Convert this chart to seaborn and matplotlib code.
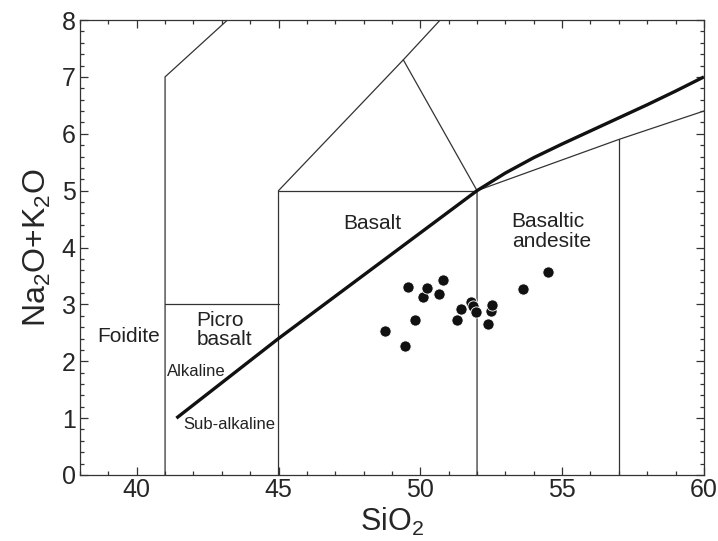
import numpy as np
import pandas as pd
import matplotlib
matplotlib.use('Agg')
import matplotlib.pyplot as plt
import seaborn as sns
from matplotlib.ticker import MultipleLocator

# 样品数据 (SiO2, Na2O+K2O)
sio2 = [48.75, 49.47, 49.55, 49.83, 50.08, 50.22, 50.65, 50.80, 51.30,
        51.43, 51.79, 51.87, 51.95, 52.39, 52.49, 52.53, 53.61, 54.49]
alk = [2.53, 2.27, 3.30, 2.72, 3.13, 3.29, 3.18, 3.42, 2.73,
       2.91, 3.04, 2.97, 2.86, 2.65, 2.88, 2.99, 3.27, 3.57]

# TAS 分区边界
foidite_x = [41, 41, 43.2]
foidite_y = [0, 7, 8]
picro_x = [41, 45]
picro_y = [3, 3]
line45_x = [45, 45, 49.4, 50.7]
line45_y = [0, 5, 7.3, 8]
basalt_top_x = [45, 52]
basalt_top_y = [5, 5]
tri_x = [49.4, 52]
tri_y = [7.3, 5]
line52_x = [52, 52, 57, 60]
line52_y = [0, 5, 5.9, 6.4]
line57_x = [57, 57]
line57_y = [0, 5.9]

# 碱性/亚碱性分界线
ib_x = [41.4, 45, 48.5, 52, 53, 54, 55, 56, 57, 58, 59, 60]
ib_y = [1.0, 2.4, 3.7, 5.0, 5.31, 5.58, 5.82, 6.05, 6.28, 6.51, 6.75, 7.0]

sns.set_style('ticks')
plt.rcParams['font.family'] = ['Liberation Sans', 'DejaVu Sans']
plt.rcParams['mathtext.default'] = 'regular'

fig = plt.figure(figsize=(7.18, 5.41), dpi=100)
ax = fig.add_axes([0.1114, 0.122, 0.869, 0.841])

edge = '#333333'
for xs, ys in [(foidite_x, foidite_y), (picro_x, picro_y), (line45_x, line45_y),
               (basalt_top_x, basalt_top_y), (tri_x, tri_y), (line52_x, line52_y),
               (line57_x, line57_y)]:
    ax.plot(xs, ys, color=edge, lw=0.9, solid_joinstyle='miter')

ax.plot(ib_x, ib_y, color='#111111', lw=2.4, solid_capstyle='butt')

df = pd.DataFrame({'SiO2': sio2, 'alk': alk})
sns.scatterplot(data=df, x='SiO2', y='alk', ax=ax, color='#111111',
                s=65, edgecolor='white', linewidth=0.6, zorder=5)

# 分区标注
ax.text(39.7, 2.43, 'Foidite', fontsize=15, ha='center', va='center', color='#222222')
ax.text(42.1, 2.55, 'Picro\nbasalt', fontsize=15, ha='left', va='center',
        linespacing=1.05, color='#222222')
ax.text(41.08, 1.82, 'Alkaline', fontsize=12, ha='left', va='center', color='#222222')
ax.text(41.64, 0.88, 'Sub-alkaline', fontsize=12, ha='left', va='center', color='#222222')
ax.text(47.28, 4.43, 'Basalt', fontsize=15, ha='left', va='center', color='#222222')
ax.text(53.22, 4.28, 'Basaltic\nandesite', fontsize=15, ha='left', va='center',
        linespacing=1.05, color='#222222')

ax.set_xlim(38, 60)
ax.set_ylim(0, 8)
ax.xaxis.set_major_locator(MultipleLocator(5))
ax.xaxis.set_minor_locator(MultipleLocator(1))
ax.yaxis.set_major_locator(MultipleLocator(1))
ax.yaxis.set_minor_locator(MultipleLocator(0.2))
ax.tick_params(which='both', direction='in', top=True, right=True,
               color=edge, width=0.9)
ax.tick_params(which='major', length=6, labelsize=18, pad=3)
ax.tick_params(which='minor', length=3)
ax.tick_params(axis='x', which='major', pad=2)
for s in ax.spines.values():
    s.set_color(edge)
    s.set_linewidth(0.9)

ax.set_xlabel('SiO$_2$', fontsize=22, labelpad=3)
ax.set_ylabel('Na$_2$O+K$_2$O', fontsize=23, labelpad=6)

plt.savefig('out.png', dpi=100)
